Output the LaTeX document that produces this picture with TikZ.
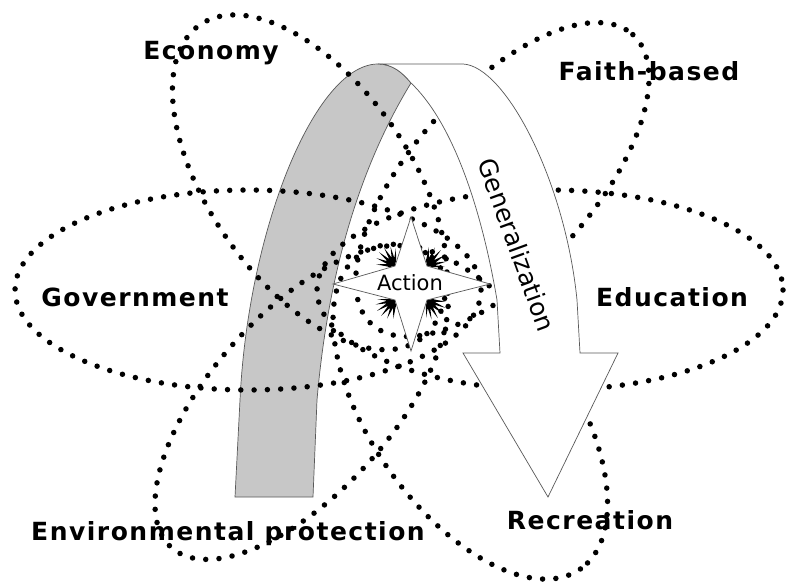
\documentclass[tikz,border=0pt]{standalone}
\usepackage{fontspec}
\usepackage{tikz}
\newfontfamily\labelfont{DejaVu Sans}[LetterSpace=6]
\newfontfamily\plainfont{DejaVu Sans}

\begin{document}
\begin{tikzpicture}[
    x=1pt, y=-1pt,
    orbit/.style={line width=5.5pt, dash pattern=on 0pt off 13.3pt, line cap=round},
    backband/.style={draw=gray!70!black, line width=0.7pt, fill=black!22},
    frontband/.style={draw=gray!70!black, line width=0.7pt, fill=white},
    actionstar/.style={draw=gray!70!black, line width=0.7pt, fill=white},
    sector/.style={font=\labelfont\bfseries\fontsize{25}{30}\selectfont, anchor=base, inner sep=0pt},
]
    \fill[white] (0,0) rectangle (787,582);
    \useasboundingbox (0,0) rectangle (787,582);

    % back of the ribbon
    \draw[backband] (235,497) -- (240,400) .. controls (248,230) and (315,64) .. (378,64)
        .. controls (392,64) and (402,72) .. (411,83)
        .. controls (370,150) and (330,250) .. (317,400) -- (313,497) -- cycle;

    % dotted orbits, two per direction
    \foreach \ang/\cx/\cy/\off/\ra/\rb in {0/399/290/151/233/100, -55/390/297/140/192/100, 48/402/291/150/195/90} {
        \foreach \s in {1,-1} {
            \draw[orbit, shift={(\cx,\cy)}, rotate=\ang] (\s*\off,0) ellipse [x radius=\ra, y radius=\rb];
        }
    }

    % front of the ribbon with the arrow head
    \draw[frontband] (378,64) -- (463,64) .. controls (505,66) and (565,180) .. (577,300)
        -- (580,353) -- (618,353) -- (548,497) -- (463,353) -- (500,353) -- (497,300)
        .. controls (480,200) and (450,120) .. (411,83)
        .. controls (402,72) and (392,64) .. (378,64) -- cycle;
    \node[font=\plainfont\fontsize{25}{30}\selectfont, rotate=-70] (generalization) at (517,245) {Generalization};

    % burst in the star corners
    \foreach \cx/\cy/\base in {395/266/135, 427/266/45, 395/300/-135, 427/300/-45} {
        \begin{scope}[shift={(\cx,\cy)}]
            \fill (0,0) \foreach \a/\r in {-55/6,-48/18,-40/8,-32/20,-23/9,-14/21,-5/9,4/21,13/9,22/20,31/8,40/19,48/8,55/6} { -- (\base+\a:\r pt) } -- cycle;
        \end{scope}
    }
    \draw[actionstar] (333,284) -- (395,266) -- (411,217) -- (427,266) -- (490,284)
        -- (427,300) -- (411,351) -- (395,300) -- cycle;
    \node[font=\plainfont\fontsize{21}{25}\selectfont, anchor=base, inner sep=0pt] (action) at (410,290) {Action};

    % sectors
    \node[sector] (economy) at (211,59) {Economy};
    \node[sector] (faith) at (649,80) {Faith-based};
    \node[sector] (government) at (135,306) {Government};
    \node[sector] (education) at (672,306) {Education};
    \node[sector] (environment) at (228,540) {Environmental protection};
    \node[sector] (recreation) at (590,529) {Recreation};
\end{tikzpicture}
\end{document}
